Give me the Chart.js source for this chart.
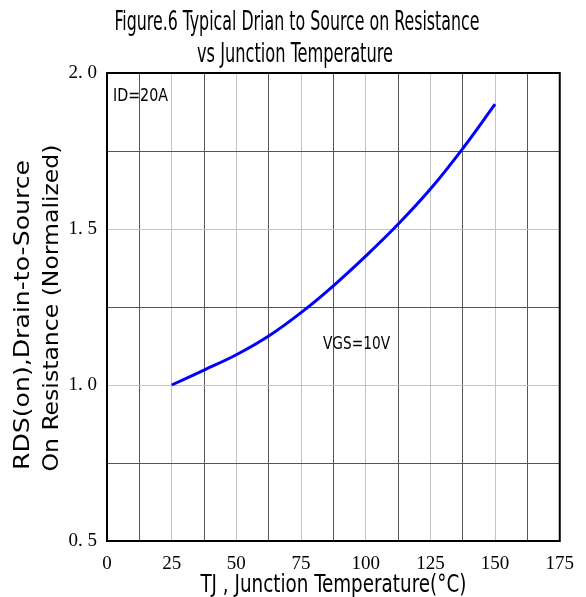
<!DOCTYPE html>
<html>
<head>
<meta charset="utf-8">
<script src="https://cdn.jsdelivr.net/npm/chart.js@4.4.1/dist/chart.umd.min.js"></script>
<style>
html,body{margin:0;padding:0;background:#fff;}
#c{display:block;}
</style>
</head>
<body>
<canvas id="c" width="586" height="597"></canvas>
<script>
// ---- data ----
const temperatures = [25, 37.5, 50, 62.5, 75, 87.5, 100, 112.5, 125, 137.5, 150];
const rdsNormalized = [1.00, 1.048, 1.097, 1.157, 1.232, 1.318, 1.413, 1.515, 1.628, 1.758, 1.90];
const xTickLabels = [0, 25, 50, 75, 100, 125, 150, 175];
const yTickLabels = [0.5, 1.0, 1.5, 2.0];
const titleLines = ["Figure.6 Typical Drian to Source on Resistance", "vs Junction Temperature"];
const yTitleLines = ["RDS(on),Drain-to-Source", "On Resistance (Normalized)"];
const xTitle = "TJ , Junction Temperature(\u00B0C)";
const notes = ["ID=20A", "VGS=10V"];

const SANS = '"Liberation Sans Narrow","DejaVu Sans Condensed","Arial Narrow","Liberation Sans",sans-serif';

function fitText(ctx, text, x, y, width, size, align) {
  ctx.save();
  ctx.font = size + 'px ' + SANS;
  const w = ctx.measureText(text).width;
  const sx = width / w;
  ctx.translate(x, y);
  ctx.scale(sx, 1);
  ctx.textBaseline = 'alphabetic';
  ctx.textAlign = align || 'center';
  ctx.fillStyle = '#000';
  ctx.fillText(text, 0, 0);
  ctx.restore();
}
function fitTextV(ctx, text, bx, cy, length, size) {
  ctx.save();
  ctx.font = size + 'px ' + SANS;
  const w = ctx.measureText(text).width;
  ctx.translate(bx, cy);
  ctx.rotate(-Math.PI / 2);
  ctx.scale(length / w, 1);
  ctx.textBaseline = 'alphabetic';
  ctx.textAlign = 'center';
  ctx.fillStyle = '#000';
  ctx.fillText(text, 0, 0);
  ctx.restore();
}

const decor = {
  id: 'decor',
  afterDraw(chart) {
    const ctx = chart.ctx;
    const a = chart.chartArea;
    ctx.save();
    ctx.strokeStyle = '#000';
    ctx.lineWidth = 2;
    ctx.strokeRect(a.left, a.top, a.right - a.left, a.bottom - a.top);
    ctx.restore();
    fitText(ctx, titleLines[0], 297, 30, 365, 27);
    fitText(ctx, titleLines[1], 295, 62, 196, 27);
    fitTextV(ctx, yTitleLines[0], 29, 315, 310, 22);
    fitTextV(ctx, yTitleLines[1], 58, 308, 327, 22);
    fitText(ctx, xTitle, (a.left + a.right) / 2, 592, 266, 25);
    fitText(ctx, notes[0], 113, 101, 55, 18, 'left');
    fitText(ctx, notes[1], 323, 349, 67, 18, 'left');
  }
};

new Chart(document.getElementById('c'), {
  type: 'line',
  data: {
    datasets: [{
      data: temperatures.map((t, i) => ({x: t, y: rdsNormalized[i]})),
      borderColor: '#0000ff',
      borderWidth: 3,
      pointRadius: 0,
      tension: 0.4,
      fill: false
    }]
  },
  options: {
    responsive: false,
    animation: false,
    devicePixelRatio: 1,
    layout: {padding: {top: 73, right: 25, left: 0, bottom: 0}},
    plugins: {legend: {display: false}, tooltip: {enabled: false}, title: {display: false}},
    scales: {
      x: {
        type: 'linear',
        min: 0, max: 175,
        afterFit(s) { s.height = 56; },
        afterBuildTicks(s) {
          const t = [];
          for (let v = 0; v <= 175; v += 12.5) t.push({value: v});
          s.ticks = t;
        },
        ticks: {
          autoSkip: false,
          maxRotation: 0,
          padding: 12,
          color: '#000',
          font: {family: '"Liberation Serif","DejaVu Serif",serif', size: 19},
          callback: (v) => xTickLabels.includes(v) ? String(v) : ''
        },
        grid: {
          drawTicks: false,
          lineWidth: 1,
          color: (c) => (c.tick && c.tick.value % 25 === 0) ? '#c4c4c4' : '#555555'
        },
        border: {display: true, color: '#000', width: 2}
      },
      y: {
        type: 'linear',
        min: 0.5, max: 2.0,
        afterFit(s) { s.width = 107; },
        afterBuildTicks(s) {
          const t = [];
          for (let k = 0; k <= 6; k++) t.push({value: 0.5 + k * 0.25});
          s.ticks = t;
        },
        ticks: {
          autoSkip: false,
          padding: 10,
          color: '#000',
          font: {family: '"Liberation Serif","DejaVu Serif",serif', size: 19},
          callback: (v) => yTickLabels.some(l => Math.abs(l - v) < 1e-9) ? v.toFixed(1).replace('.', '. ') : ''
        },
        grid: {
          drawTicks: false,
          lineWidth: 1,
          color: (c) => (c.tick && Math.abs(c.tick.value * 2 - Math.round(c.tick.value * 2)) < 1e-9) ? '#c4c4c4' : '#555555'
        },
        border: {display: true, color: '#000', width: 2}
      }
    }
  },
  plugins: [decor]
});
</script>
</body>
</html>
